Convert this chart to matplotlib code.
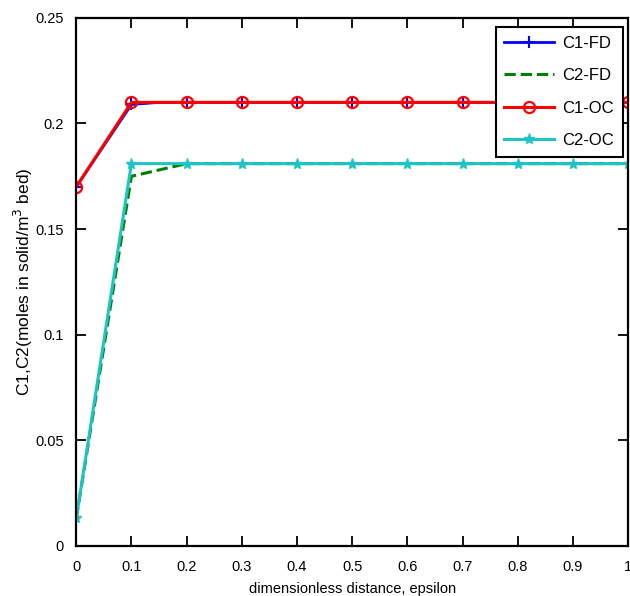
import matplotlib
matplotlib.use("Agg")
import matplotlib.pyplot as plt

# Data
x_fd = [0, 0.1, 0.15, 0.2, 0.3, 0.4, 0.5, 0.6, 0.7, 0.8, 0.9, 1.0]
c1_fd = [0.170, 0.209, 0.210, 0.210, 0.210, 0.210, 0.210, 0.210, 0.210, 0.210, 0.210, 0.210]
x_fd2 = [0, 0.1, 0.2, 0.3, 0.4, 0.5, 0.6, 0.7, 0.8, 0.9, 1.0]
c2_fd = [0.013, 0.175, 0.181, 0.181, 0.181, 0.181, 0.181, 0.181, 0.181, 0.181, 0.181]

x_oc = [0, 0.1, 0.2, 0.3, 0.4, 0.5, 0.6, 0.7, 0.8, 0.9, 1.0]
c1_oc = [0.170, 0.210, 0.210, 0.210, 0.210, 0.210, 0.210, 0.210, 0.210, 0.210, 0.210]
c2_oc = [0.013, 0.181, 0.181, 0.181, 0.181, 0.181, 0.181, 0.181, 0.181, 0.181, 0.181]

plt.rcParams["font.family"] = ["Liberation Sans", "DejaVu Sans"]
plt.rcParams["font.size"] = 10

fig = plt.figure(figsize=(6.3, 5.96), dpi=100)
ax = fig.add_axes([0.121, 0.084, 0.876, 0.886])

ax.plot(x_fd, c1_fd, color="blue", lw=2, marker="+", ms=9, mew=1.5,
        markevery=[0, 1, 3, 4, 5, 6, 7, 8, 9, 10, 11], label="C1-FD")
ax.plot(x_fd2, c2_fd, color="green", lw=2.2, ls="--", label="C2-FD")
ax.plot(x_oc, c1_oc, color="red", lw=2.2, marker="o", ms=8, mfc="none", mew=1.6, label="C1-OC")
ax.plot(x_oc, c2_oc, color="#1cc4c4", lw=2.2, marker="*", ms=8, label="C2-OC")

ax.set_xlim(0, 1)
ax.set_ylim(0, 0.25)
ax.set_xticks([0, 0.1, 0.2, 0.3, 0.4, 0.5, 0.6, 0.7, 0.8, 0.9, 1])
ax.set_xticklabels(["0", "0.1", "0.2", "0.3", "0.4", "0.5", "0.6", "0.7", "0.8", "0.9", "1"])
ax.set_yticks([0, 0.05, 0.1, 0.15, 0.2, 0.25])
ax.set_yticklabels(["0", "0.05", "0.1", "0.15", "0.2", "0.25"])
ax.tick_params(direction="in", top=True, right=True, length=7, width=1.3, labelsize=10.5)
ax.tick_params(axis="x", pad=10)
ax.tick_params(axis="y", pad=9)
for s in ax.spines.values():
    s.set_linewidth(1.6)

ax.set_xlabel("dimensionless distance, epsilon", fontsize=10.5, labelpad=6)
ax.set_ylabel(r"C1,C2(moles in solid/m$^3$ bed)", fontsize=12.5, labelpad=0)

leg = ax.legend(loc="upper right", fancybox=False, edgecolor="black",
                framealpha=1, fontsize=12, handlelength=3.0, borderpad=0.5,
                labelspacing=1.05, handletextpad=0.5, borderaxespad=0,
                bbox_to_anchor=(0.99, 0.982))
leg.get_frame().set_linewidth(1.5)

fig.savefig("out.png", dpi=100)
